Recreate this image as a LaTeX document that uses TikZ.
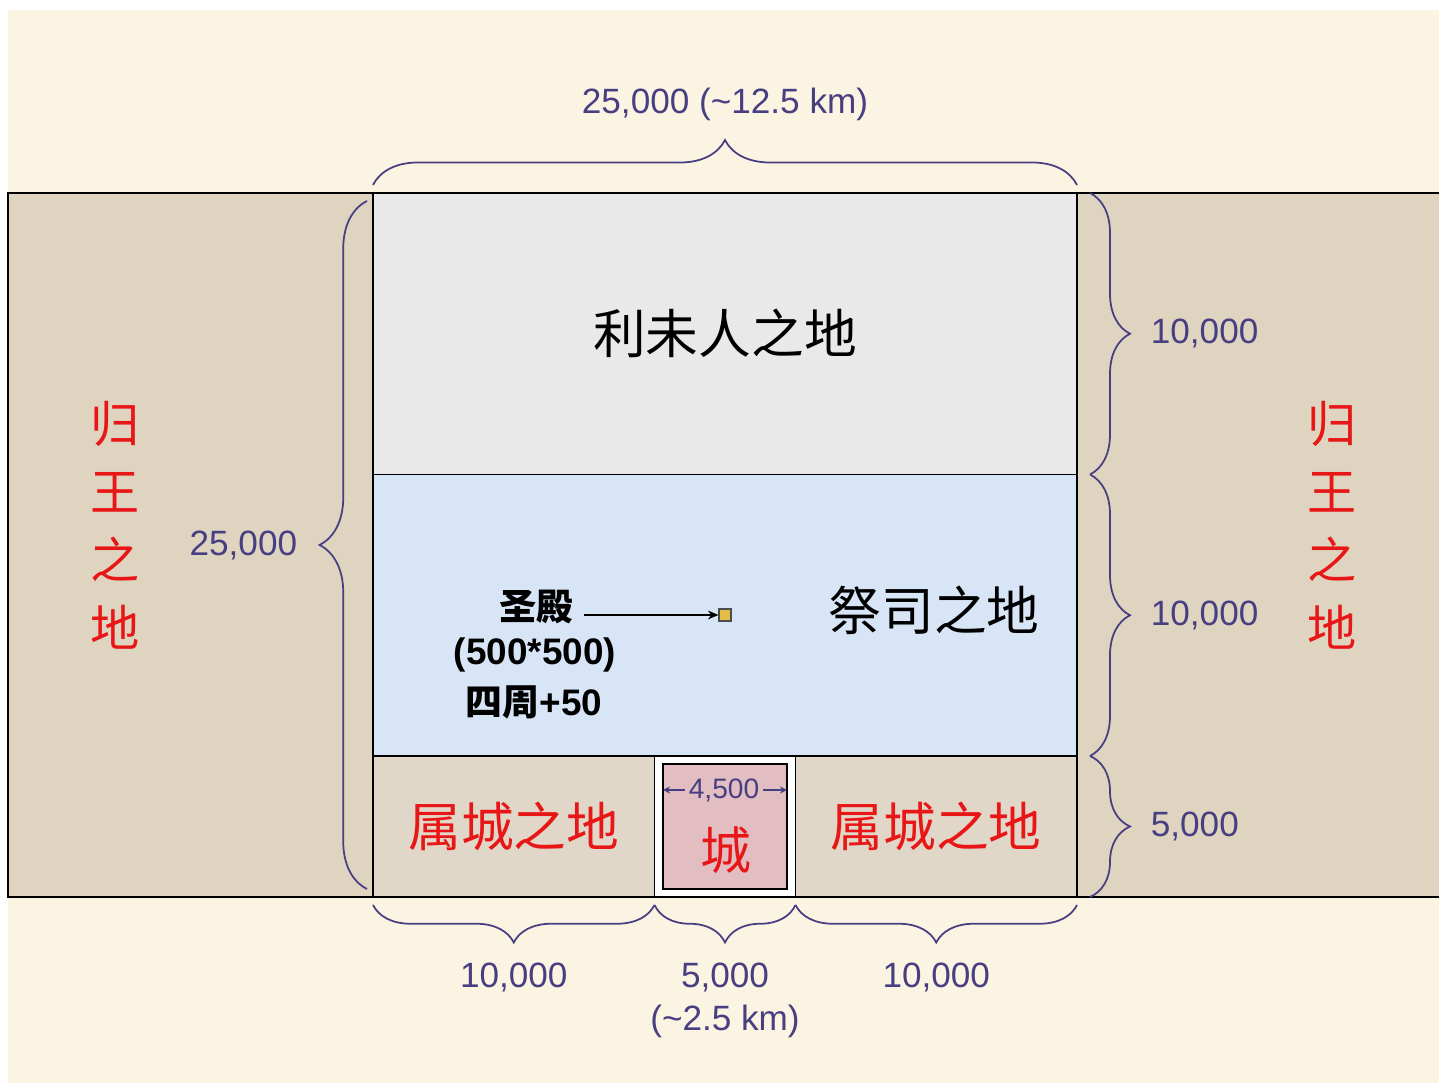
\documentclass[tikz,border=0pt]{standalone}
\usepackage{fontspec}
\setmainfont{Liberation Sans}
\newfontfamily\cjk{Noto Sans CJK SC}
\usetikzlibrary{arrows.meta, positioning, calc, decorations.pathreplacing}
\definecolor{cream}{RGB}{252,244,226}
\definecolor{kingland}{RGB}{222,212,192}
\definecolor{leviland}{RGB}{233,233,233}
\definecolor{priestland}{RGB}{215,229,246}
\definecolor{townland}{RGB}{225,215,200}
\definecolor{cityred}{RGB}{226,190,194}
\definecolor{dimblue}{RGB}{72,62,130}
\definecolor{namered}{RGB}{232,22,22}
\definecolor{templegold}{RGB}{228,188,72}

\begin{document}
\begin{tikzpicture}[
        region/.style={rectangle, draw=black, fill=#1, line width=1.1pt, inner sep=0pt, outer sep=0pt},
        title/.style={font=\cjk\fontsize{30}{36}\selectfont, text=black},
        redtitle/.style={font=\cjk\fontsize{30}{36}\selectfont, text=namered},
        kingtitle/.style={font=\cjk\fontsize{28}{38.7}\selectfont, text=namered, align=center},
        dimlabel/.style={font=\fontsize{20}{24.5}\selectfont, text=dimblue, align=center, inner sep=0pt},
        dimbrace/.style={decorate, decoration={brace, amplitude=#1}, draw=dimblue, line width=1pt},
        dimarrow/.style={-{Stealth[length=4pt, width=4pt]}, dimblue, line width=0.8pt},
        holy/.style={font=\bfseries\fontsize{21}{25}\selectfont, inner sep=2pt},
        pointer/.style={-{Stealth[length=6pt, width=5pt]}, line width=0.8pt, black}
    ]
        \useasboundingbox (0,0) rectangle (28.78,21.66);
        \fill[white] (0,0) rectangle (28.78,21.66);
        \fill[cream] (0.16,0) rectangle (28.78,21.46);

        % Land of the king
        \node[region=kingland, minimum width=7.3cm, minimum height=14.08cm, anchor=north west] (westland) at (0.16,17.8) {};
        \node[region=kingland, minimum width=7.5cm, minimum height=14.08cm, anchor=north west] (eastland) at (21.54,17.8) {};

        % Holy portion
        \node[region=leviland, minimum width=14.08cm, minimum height=5.63cm, anchor=north west] (levi) at (7.46,17.8) {};
        \node[region=priestland, minimum width=14.08cm, minimum height=5.63cm, below=0pt of levi] (priest) {};
        \node[region=townland, minimum width=5.63cm, minimum height=2.82cm, anchor=north west] (westtown) at (priest.south west) {};
        \node[region=white, minimum width=2.82cm, minimum height=2.82cm, right=0pt of westtown] (city) {};
        \node[region=townland, minimum width=5.63cm, minimum height=2.82cm, right=0pt of city] (easttown) {};
        \node[region=cityred, minimum width=2.48cm, minimum height=2.5cm] (citywall) at (city.center) {};

        % Names
        \node[title] (levititle) at (levi.center) {利未人之地};
        \node[title] (priesttitle) at (18.68,9.46) {祭司之地};
        \node[redtitle] (westtowntitle) at (westtown.center) {属城之地};
        \node[redtitle] (easttowntitle) at (easttown.center) {属城之地};
        \node[redtitle, font=\cjk\fontsize{29}{34}\selectfont] (citytitle) at (14.52,4.66) {城};
        \node[kingtitle] (westking) at (2.3,11.16) {归\\王\\之\\地};
        \node[kingtitle] (eastking) at (26.64,11.16) {归\\王\\之\\地};

        % Sanctuary
        \node[holy] (holy) at (10.72,9.52) {{\cjk 圣殿}};
        \node[holy] (holysize) at (10.7,8.56) {(500*500)};
        \node[holy] (holyedge) at (10.68,7.62) {{\cjk 四周}+50};
        \node[draw=black!70, fill=templegold, minimum size=0.24cm, inner sep=0pt, line width=0.6pt] (temple) at (14.5,9.36) {};
        \draw[pointer] ([xshift=4pt]holy.east |- temple) -- (temple.west);

        % City width
        \node[dimlabel, font=\fontsize{16}{19}\selectfont, inner sep=2pt] (citywidth) at (14.48,5.86) {4,500};
        \draw[dimarrow] (citywidth.west) -- (citywall.west |- citywidth);
        \draw[dimarrow] (citywidth.east) -- (citywall.east |- citywidth);

        % Braces
        \draw[dimbrace=0.9cm] ([yshift=0.16cm]levi.north west) -- ([yshift=0.16cm]levi.north east)
            node[dimlabel, midway, above=1.27cm] (toplabel) {25,000 (\textasciitilde12.5 km)};
        \draw[dimbrace=0.95cm] ([shift={(-0.12,0.16)}]westtown.south west) -- ([shift={(-0.12,-0.16)}]levi.north west)
            node[dimlabel, midway, left=1.38cm] (leftlabel) {25,000};
        \draw[dimbrace=0.8cm] ([xshift=0.26cm]levi.north east) -- ([xshift=0.26cm]levi.south east)
            node[dimlabel, midway, right=1.2cm] (levilabel) {10,000};
        \draw[dimbrace=0.8cm] ([xshift=0.26cm]priest.north east) -- ([xshift=0.26cm]priest.south east)
            node[dimlabel, midway, right=1.2cm] (priestlabel) {10,000};
        \draw[dimbrace=0.8cm] ([xshift=0.26cm]easttown.north east) -- ([xshift=0.26cm]easttown.south east)
            node[dimlabel, midway, right=1.2cm] (townlabel) {5,000};
        \draw[dimbrace=0.75cm] ([yshift=-0.16cm]westtown.south east) -- ([yshift=-0.16cm]westtown.south west)
            node[dimlabel, midway, below=1.15cm] (westlabel) {10,000};
        \draw[dimbrace=0.75cm] ([yshift=-0.16cm]city.south east) -- ([yshift=-0.16cm]city.south west)
            node[dimlabel, midway, below=1.15cm] (citylabel) {5,000\\(\textasciitilde2.5 km)};
        \draw[dimbrace=0.75cm] ([yshift=-0.16cm]easttown.south east) -- ([yshift=-0.16cm]easttown.south west)
            node[dimlabel, midway, below=1.15cm] (eastlabel) {10,000};
    \end{tikzpicture}
\end{document}
